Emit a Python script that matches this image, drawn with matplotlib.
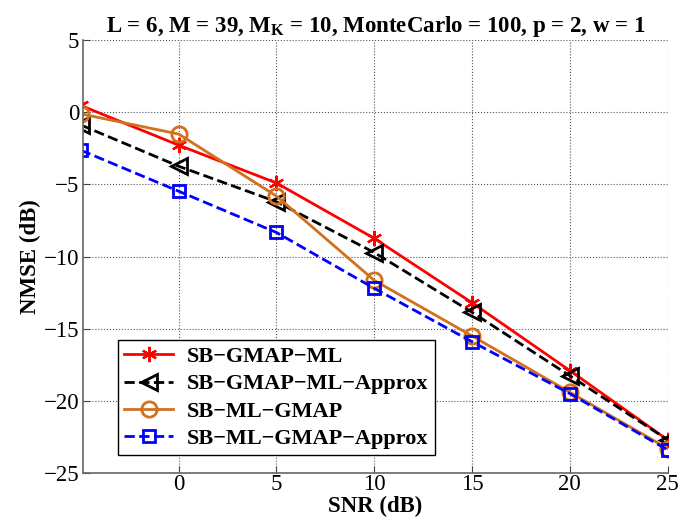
import numpy as np
import matplotlib
matplotlib.use('Agg')
import matplotlib.pyplot as plt
from matplotlib import rc

rc('font', **{'family': 'serif', 'serif': ['Liberation Serif']})
rc('mathtext', fontset='custom', rm='Liberation Serif', bf='Liberation Serif:bold')

# SNR points (first one sits just left of the visible range)
snr = [-5, 0, 5, 10, 15, 20, 25]

sb_gmap_ml = [0.47, -2.28, -4.9, -8.74, -13.2, -17.9, -22.7]
sb_gmap_ml_approx = [-0.88, -3.74, -6.2, -9.72, -13.86, -18.26, -22.7]
sb_ml_gmap = [-0.11, -1.51, -5.81, -11.65, -15.5, -19.4, -23.3]
sb_ml_gmap_approx = [-2.63, -5.47, -8.33, -12.2, -15.9, -19.5, -23.4]

labels = ['SB\u2212GMAP\u2212ML', 'SB\u2212GMAP\u2212ML\u2212Approx',
          'SB\u2212ML\u2212GMAP', 'SB\u2212ML\u2212GMAP\u2212Approx']

orange = '#D2701E'
asterisk = (6, 2, 0)  # matlab style '*'

fig = plt.figure(figsize=(6.82, 5.21), dpi=100)
ax = fig.add_axes([0.122, 0.092, 0.857, 0.831])

ax.plot(snr, sb_gmap_ml, '-', color='red', marker=asterisk, ms=11, mec='red', mew=1.6, lw=2, label=labels[0])
ax.plot(snr, sb_gmap_ml_approx, '--', color='black', marker='<', ms=12, mfc='none', mec='black', mew=2, lw=2, label=labels[1])
ax.plot(snr, sb_ml_gmap, '-', color=orange, marker='o', ms=11, mfc='none', mec=orange, mew=2, lw=2, label=labels[2])
ax.plot(snr, sb_ml_gmap_approx, '--', color='blue', marker='s', ms=9, mfc='none', mec='blue', mew=2, lw=2, label=labels[3])

ax.set_xlim(-4.88, 25)
ax.set_ylim(-25, 5)
ax.set_xticks(range(0, 26, 5))
ax.set_yticks(range(-25, 6, 5))
ax.grid(True, linestyle=':', color='#555555', lw=0.8)
ax.tick_params(direction='in', labelsize=16.5, length=5, color='#444444')
ax.tick_params(axis='x', pad=1)
ax.tick_params(axis='y', pad=3)

for s in ['top', 'right']:
    ax.spines[s].set_visible(False)
for s in ['left', 'bottom']:
    ax.spines[s].set_color('#666666')
    ax.spines[s].set_linewidth(1.2)

ax.set_xlabel('SNR (dB)', fontsize=16.5, fontweight='bold', labelpad=0)
ax.set_ylabel('NMSE (dB)', fontsize=16.5, fontweight='bold', labelpad=2)
ax.set_title(r'L = 6, M = 39, $\mathbf{M_K}$ = 10, MonteCarlo = 100, p = 2, w = 1',
             fontsize=16.5, fontweight='bold', pad=6)

leg = ax.legend(loc='lower left', bbox_to_anchor=(0.04, 0.015),
                prop={'weight': 'bold', 'size': 16}, handlelength=2.2,
                borderpad=0.3, labelspacing=0.3, handletextpad=0.6,
                fancybox=False, framealpha=1, edgecolor='black')
leg.get_frame().set_linewidth(1.0)

plt.savefig('out.png', dpi=100)
